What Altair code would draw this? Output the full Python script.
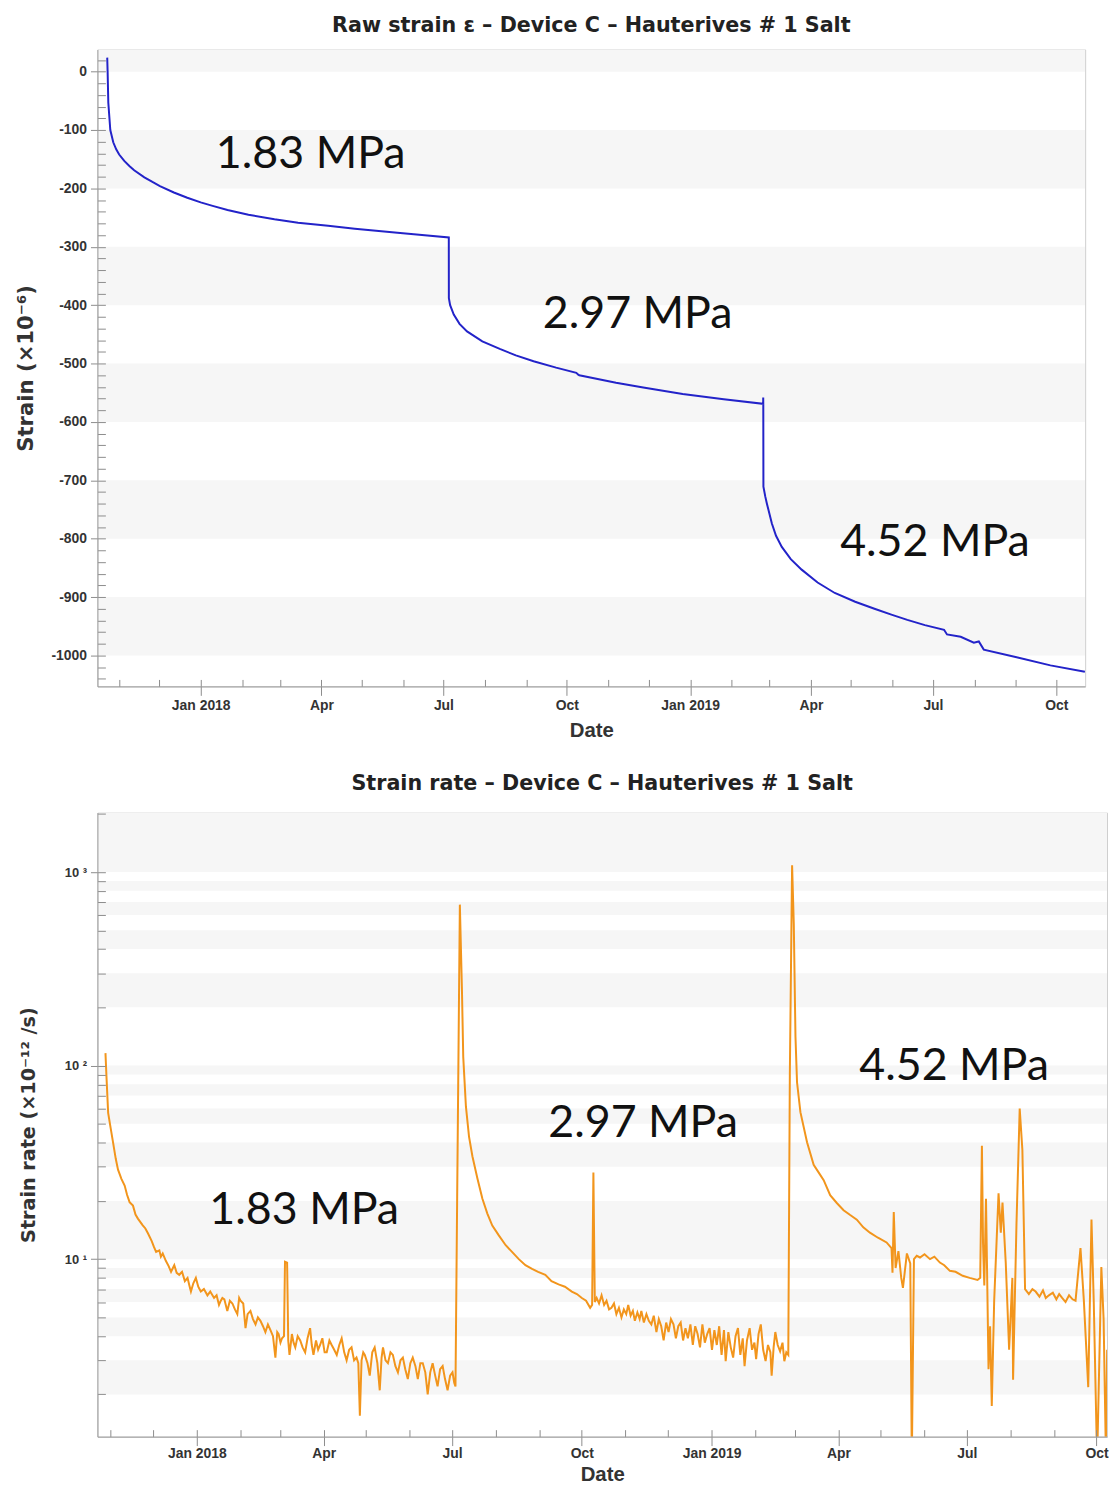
import altair as alt
import pandas as pd

BASE = pd.Timestamp("2018-01-01")

# ---------------- Raw strain (top panel) : days since 2018-01-01, strain (x1e-6)
STRAIN_DAY = [-69.7, -69.4, -68.9, -67.4, -65.2, -63.0, -60.8, -57.0, -53.0, -49.6, -42.0,
              -36.0, -30.4, -20.0, -10.0, 0.0, 8.9, 20.0, 35.6, 55.0, 72.6, 95.0, 114.9,
              146.7, 165.0, 185.0, 185.05, 186.0, 188.7, 193.0, 198.6, 210.0, 223.0, 235.0,
              248.2, 265.0, 280.1, 281.5, 282.3, 309.7, 330.0, 359.4, 390.0, 419.4, 419.45,
              419.5, 419.6, 421.0, 422.2, 425.9, 429.0, 433.3, 440.0, 448.1, 460.0, 472.8,
              488.0, 502.4, 515.0, 526.9, 540.0, 554.3, 556.5, 566.7, 576.5, 580.2, 583.9,
              608.4, 633.6, 659.3]
STRAIN_VAL = [24, 0, -53, -100, -121, -133, -142, -153, -162, -169, -181,
              -189, -196, -207, -216, -224, -230, -237, -245, -253, -259, -264, -269,
              -276, -280, -284, -388, -400, -416, -432, -445, -462, -475, -486,
              -496, -507, -516, -519, -520, -533, -541, -552, -561, -569, -558,
              -571, -711, -728, -740, -774, -795, -814, -835, -853, -875, -893,
              -908, -920, -930, -939, -948, -956, -964, -968, -978, -976, -990,
              -1003, -1017, -1028]

# ---------------- Strain rate (bottom panel) : days since 2018-01-01, rate (x1e-12 /s)
RATE_DAY = [
    -64.8, -64.1, -62.9, -61.0, -59.4, -57.5, -55.9, -53.5, -51.2, -49.5, -47.7, -45.3,
    -43.5, -41.8, -38.5, -36.5, -34.7, -32.0, -30.5, -28.9, -26.6, -25.5, -24.2, -22.0,
    -20.0, -18.3, -16.0, -14.3, -12.5, -10.5, -8.5, -6.6, -5.3, -4.2, -2.5, -0.7, 1.0,
    2.8, 5.0, 7.5, 9.5, 12.2, 14.0, 15.7, 17.0, 18.1,
    19.5, 21.6, 23.4, 25.2, 27.0, 28.7, 30.0, 31.0, 32.9, 34.5, 36.0, 38.0, 39.8, 41.6,
    43.3, 45.1, 46.9, 48.6, 50.4, 52.2, 54.0, 55.7, 57.0, 58.0, 59.3, 60.4, 61.8, 62.5,
    64.0, 64.8, 65.7, 67.4, 68.6, 69.8, 71.5, 73.3, 75.0, 76.8, 78.5, 80.3, 81.5, 82.7,
    84.5, 86.0, 87.4, 89.0, 90.6, 92.1, 94.0, 95.6, 97.4, 99.2, 101.0, 102.7, 104.5,
    106.2, 108.0, 109.7, 111.5, 113.2, 114.5, 115.6, 116.8, 118.0, 119.1, 121.0, 122.6,
    124.4, 126.1, 128.0, 129.7, 131.0, 132.0, 133.8, 135.5, 137.3, 139.0, 140.8, 142.6,
    144.4, 146.1, 147.8, 149.6, 151.4, 153.1, 155.0, 156.7, 158.5, 160.2, 162.0, 163.7,
    165.5, 167.2, 169.0, 170.7, 172.5, 174.3, 176.0, 177.8, 179.6, 181.3, 182.5, 183.4,
    184.6, 186.5, 188.0, 188.9, 190.8, 193.0, 195.4, 199.0, 202.5, 206.0, 209.5, 214.0,
    219.0, 223.5, 228.3, 233.0, 237.7, 242.0, 247.1, 251.5, 256.5, 261.0, 265.9, 269.5,
    273.0, 276.0, 278.9, 280.3, 281.2, 282.2,
    283.5, 285.2, 287.0, 288.8, 290.5, 292.3, 294.0, 295.8, 297.5, 299.3, 301.1, 302.8,
    304.5, 305.9, 307.6, 309.2, 310.6, 312.4, 314.0, 315.2, 317.0, 318.8, 320.5, 322.3,
    324.0, 325.9, 327.6, 329.3, 331.0, 332.8, 334.5, 336.2, 338.0, 339.7, 341.4, 343.1,
    344.8, 346.5, 348.2, 350.0, 351.7, 353.4, 355.1, 356.8, 358.5, 360.2, 361.9, 363.6,
    365.3, 367.0, 368.7, 370.4, 372.1, 373.8, 375.0, 376.9, 378.6, 380.3, 382.0, 383.7,
    385.4, 387.1, 388.4, 390.1, 392.0, 393.7, 395.4, 396.6, 398.3, 399.9, 401.6, 403.3,
    405.0, 406.7, 407.6, 409.0, 410.2, 411.9, 413.6, 415.3, 416.6, 418.0, 419.4,
    420.5, 422.1, 423.3, 424.5, 425.6, 428.0, 432.7, 437.4, 441.0, 444.5, 449.1, 453.8,
    458.6, 463.3, 468.0, 472.6, 477.3, 483.0, 489.1, 492.6, 493.3, 494.2, 495.5, 497.5,
    499.5, 500.7, 503.5, 505.9, 507.0, 508.5, 510.5, 512.8, 516.0, 519.9, 523.0, 526.9,
    530.0, 534.0, 538.0, 543.1, 548.0, 553.6, 555.5, 556.7, 557.5, 558.4, 559.6, 561.4,
    562.5, 563.7, 565.4, 568.5, 570.1, 571.3, 573.6, 576.0, 578.3, 578.8, 581.2, 583.5,
    585.4, 587.3, 590.0, 592.5, 594.8, 597.5, 600.0, 602.0, 604.2, 607.0, 609.5, 611.5,
    613.6, 616.0, 618.5, 621.0, 623.1, 626.6, 629.0, 632.1, 634.4, 636.0, 638.4, 641.4,
    643.0, 644.7, 645.5]
RATE_VAL = [
    116, 88, 57, 47, 40, 33, 29, 26, 24, 21.5, 19.7, 18.9,
    17.0, 16.2, 15.0, 14.4, 13.6, 12.4, 11.6, 10.9, 11.1, 10.3, 10.7, 9.8,
    9.2, 8.6, 9.3, 8.5, 8.3, 8.6, 7.7, 8.0, 7.3, 6.8, 7.5, 8.0, 7.2,
    6.8, 7.0, 6.5, 6.8, 6.3, 6.5, 5.8, 6.1, 6.3,
    6.2, 5.4, 6.1, 5.9, 5.5, 5.2, 6.3, 6.1, 5.9, 4.4, 5.2, 5.4, 4.9, 4.6,
    5.0, 4.8, 4.5, 4.2, 4.6, 4.3, 4.0, 3.1, 4.2, 4.1, 3.7, 3.9, 4.0, 9.7,
    9.6, 3.8, 3.2, 4.1, 3.7, 3.5, 4.0, 3.8, 3.5, 3.3, 3.9, 4.4, 3.6, 3.2,
    3.8, 3.4, 3.6, 3.9, 3.3, 3.3, 3.8, 3.6, 3.4, 3.2, 3.6, 3.9, 3.3,
    3.0, 3.4, 3.5, 3.0, 3.1, 2.9, 1.55, 3.0, 3.3, 3.2, 2.9, 2.5,
    3.3, 3.5, 2.9, 2.1, 3.1, 3.5, 3.0, 2.9, 3.3, 3.2, 2.8, 2.6,
    3.0, 3.1, 2.7, 2.4, 2.9, 3.1, 2.8, 2.4, 2.9, 2.9, 2.6, 2.0,
    2.6, 2.9, 2.5, 2.2, 2.7, 2.8, 2.4, 2.1, 2.5, 2.6, 2.3, 2.2,
    21, 679, 244, 111, 61.5, 43, 34, 26, 20.5, 17.2, 14.9, 13.3,
    11.8, 10.9, 10.0, 9.3, 8.9, 8.6, 8.3, 7.7, 7.4, 7.2, 6.8, 6.6,
    6.3, 6.1, 5.6, 5.8, 28, 6.0,
    6.3, 5.9, 6.5, 5.8, 6.1, 5.5, 5.6, 5.9, 5.2, 5.6, 5.0, 5.5,
    5.2, 5.8, 5.1, 5.4, 4.8, 5.3, 4.9, 5.4, 4.7, 5.2, 4.8, 4.6,
    5.1, 4.2, 4.9, 4.5, 3.8, 4.7, 4.2, 4.9, 4.6, 3.9, 4.5, 4.7,
    3.8, 4.4, 3.9, 4.6, 3.6, 4.5, 4.1, 3.5, 4.6, 3.7, 4.1, 4.4,
    3.4, 4.3, 3.6, 4.5, 3.2, 4.3, 2.97, 4.2, 3.5, 3.1, 4.0, 4.4,
    3.2, 3.9, 2.8, 3.8, 4.4, 3.4, 3.7, 3.04, 4.1, 4.6, 3.4, 2.97,
    3.6, 3.3, 2.5, 3.5, 4.2, 3.6, 3.34, 3.7, 2.97, 3.3, 3.2,
    90, 1084, 541, 141, 82, 57.5, 40.2, 30.7, 28, 25.6, 21.4, 19.5,
    17.9, 16.9, 16.0, 14.6, 13.7, 12.9, 12.2, 11.4, 8.5, 17.5, 9.0, 11.0,
    8.0, 7.1, 10.7, 9.5, 0.9, 10.0, 10.4, 10.2, 10.6, 10.0, 10.3, 9.6,
    9.3, 8.7, 8.6, 8.2, 8.0, 7.8, 8.0, 38.5, 12, 7.3, 20.5, 2.7,
    4.5, 1.74, 6.1, 21.9, 13.7, 19.6, 9.6, 3.4, 8.0, 2.38, 15, 60,
    36.7, 7.0, 6.6, 7.0, 6.8, 6.4, 6.9, 6.3, 6.5, 6.7, 6.2, 6.6,
    6.3, 6.0, 6.5, 6.2, 6.1, 11.4, 6.1, 2.18, 16, 6.1, 0.9, 9.1,
    4.9, 0.9, 3.4]

# ---------------- annotations
ANNOT_TEXT = ["1.83 MPa", "2.97 MPa", "4.52 MPa"]
STRAIN_ANNOT_DAY = [82.0, 325.8, 547.5]
STRAIN_ANNOT_VAL = [-142, -415, -805]
RATE_ANNOT_DAY = [76.1, 316.4, 537.0]
RATE_ANNOT_VAL = [18.0, 50.5, 99.4]

# ---------------- alternating background bands
STRAIN_BAND_LO = [0, -200, -400, -600, -800, -1000]
STRAIN_BAND_HI = [38, -100, -300, -500, -700, -900]
RATE_BAND_LO = [2, 4, 6, 8, 10, 30, 50, 70, 90, 200, 400, 600, 800, 1000]
RATE_BAND_HI = [3, 5, 7, 9, 20, 40, 60, 80, 100, 300, 500, 700, 900, 2030]

# ---------------- ticks
STRAIN_MAJOR = [0, -100, -200, -300, -400, -500, -600, -700, -800, -900, -1000]
STRAIN_MINOR = [20, 0, -20, -40, -60, -80, -100, -120, -140, -160, -180, -200, -220, -240,
                -260, -280, -300, -320, -340, -360, -380, -400, -420, -440, -460, -480,
                -500, -520, -540, -560, -580, -600, -620, -640, -660, -680, -700, -720,
                -740, -760, -780, -800, -820, -840, -860, -880, -900, -920, -940, -960,
                -980, -1000, -1020, -1040]
RATE_MAJOR = [10, 100, 1000]
RATE_MINOR = [2, 3, 4, 5, 6, 7, 8, 9, 10, 20, 30, 40, 50, 60, 70, 80, 90, 100,
              200, 300, 400, 500, 600, 700, 800, 900, 1000, 2000]
MAJOR_MONTHS = [(2018, 1), (2018, 4), (2018, 7), (2018, 10), (2019, 1), (2019, 4),
                (2019, 7), (2019, 10)]
MINOR_MONTHS = [(2017, 11), (2017, 12), (2018, 1), (2018, 2), (2018, 3), (2018, 4),
                (2018, 5), (2018, 6), (2018, 7), (2018, 8), (2018, 9), (2018, 10),
                (2018, 11), (2018, 12), (2019, 1), (2019, 2), (2019, 3), (2019, 4),
                (2019, 5), (2019, 6), (2019, 7), (2019, 8), (2019, 9), (2019, 10)]


def to_dates(days):
    return [BASE + pd.Timedelta(days=d) for d in days]


strain_df = pd.DataFrame({"date": to_dates(STRAIN_DAY), "v": STRAIN_VAL})
rate_df = pd.DataFrame({"date": to_dates(RATE_DAY), "v": RATE_VAL})
strain_ann = pd.DataFrame({"date": to_dates(STRAIN_ANNOT_DAY), "v": STRAIN_ANNOT_VAL, "label": ANNOT_TEXT})
rate_ann = pd.DataFrame({"date": to_dates(RATE_ANNOT_DAY), "v": RATE_ANNOT_VAL, "label": ANNOT_TEXT})
strain_bands = pd.DataFrame({"lo": STRAIN_BAND_LO, "hi": STRAIN_BAND_HI})
rate_bands = pd.DataFrame({"lo": RATE_BAND_LO, "hi": RATE_BAND_HI})

FONT = "Liberation Sans"
TFONT = "DejaVu Sans"
BAND = "#f6f6f6"
LABEL_EXPR = ("month(datum.value) == 0 ? timeFormat(datum.value, '%b %Y') "
              ": timeFormat(datum.value, '%b')")


def dt(y, m, d=1, h=0):
    return alt.DateTime(year=y, month=m, date=d, hours=h)


def x_axes(label_pad, title_pad):
    major = alt.Axis(orient="bottom", values=[dt(y, m) for y, m in MAJOR_MONTHS],
                     labelExpr=LABEL_EXPR, tickSize=9, labelPadding=label_pad, title="Date",
                     titleFont=FONT, titleFontSize=20.5, titlePadding=title_pad, zindex=1)
    minor = alt.Axis(orient="bottom", values=[dt(y, m) for y, m in MINOR_MONTHS],
                     tickSize=7, offset=-7, labels=False, domain=False, title=None, zindex=1)
    return major, minor


def panel(line_df, ann_df, band_df, xscale, yscale, y_major, y_minor, color,
          width, height, title, title_offset, label_pad, title_pad):
    x_major, x_minor = x_axes(label_pad, title_pad)
    bands = alt.Chart(band_df).mark_rect(color=BAND, clip=True).encode(
        y=alt.Y("lo:Q", scale=yscale, axis=None), y2="hi:Q")
    line = alt.Chart(line_df).mark_line(color=color, strokeWidth=2, clip=True).encode(
        x=alt.X("date:T", scale=xscale, axis=x_minor),
        y=alt.Y("v:Q", scale=yscale, axis=y_minor))
    text = alt.Chart(ann_df).mark_text(font="Lato", fontSize=45, color="#111",
                                       baseline="middle", align="center").encode(
        x=alt.X("date:T", scale=xscale, axis=x_major),
        y=alt.Y("v:Q", scale=yscale, axis=y_major),
        text="label:N")
    return alt.layer(bands, line, text).resolve_axis(
        x="independent", y="independent").properties(
        width=width, height=height,
        title=alt.TitleParams(title, font=TFONT, fontSize=20.8, fontWeight="bold", color="#222",
                              anchor="middle", frame="group", offset=title_offset))


strain_x = alt.Scale(domain=[dt(2017, 10, 16), dt(2019, 10, 22, 12)], nice=False)
strain_y = alt.Scale(domain=[-1053, 38], nice=False, zero=False)
rate_x = alt.Scale(domain=[dt(2017, 10, 22, 12), dt(2019, 10, 8, 10)], nice=False)
rate_y = alt.Scale(type="log", domain=[1.21, 2030], nice=False)

strain_y_major = alt.Axis(orient="left", values=STRAIN_MAJOR, tickSize=7, labelPadding=4,
                          labelExpr="'' + datum.value",
                          title="Strain (×10⁻⁶)", titleFont=TFONT, titleFontSize=21.3,
                          titlePadding=14, minExtent=47, zindex=1)
strain_y_minor = alt.Axis(orient="left", values=STRAIN_MINOR, tickSize=8, offset=-8,
                          labels=False, domain=False, title=None, zindex=1)
rate_y_major = alt.Axis(orient="left", values=RATE_MAJOR, tickSize=7, labelPadding=4,
                        labelExpr="datum.value == 10 ? '10 ¹' : datum.value == 100 ? '10 ²' : '10 ³'",
                        labelFontSize=13,
                        title="Strain rate (×10⁻¹² /s)", titleFont=TFONT, titleFontSize=19.3,
                        titlePadding=12.5, minExtent=47, zindex=1)
rate_y_minor = alt.Axis(orient="left", values=RATE_MINOR, tickSize=8, offset=-8,
                        labels=False, domain=False, title=None, zindex=1)

top = panel(strain_df, strain_ann, strain_bands, strain_x, strain_y, strain_y_major,
            strain_y_minor, "#2323c9", 994, 641,
            "Raw strain  ε – Device C – Hauterives # 1 Salt", 13, 3, 8)
bottom = panel(rate_df, rate_ann, rate_bands, rate_x, rate_y, rate_y_major,
               rate_y_minor, "#f2951c", 1016, 628,
               "Strain rate  – Device C – Hauterives # 1 Salt", 18, 1, 4)

chart = alt.vconcat(top, bottom, spacing=31).properties(
    padding={"left": 7, "top": 1, "right": 0, "bottom": 0}
).configure_view(stroke="#cfcfcf", strokeWidth=1).configure_axis(
    labelFont=FONT, labelFontWeight="bold", labelFontSize=14, labelColor="#333",
    titleFont=FONT, titleFontWeight="bold", titleColor="#333",
    tickColor="#8c8c8c", domainColor="#9a9a9a", grid=False
)

chart.save("out.html", embed_options={"renderer": "svg", "actions": False})
